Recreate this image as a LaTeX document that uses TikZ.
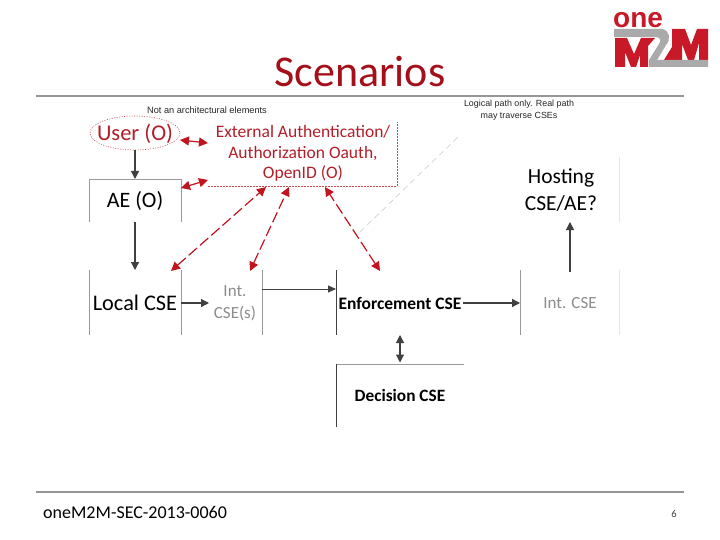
\documentclass[tikz,border=0pt]{standalone}
\usepackage{fontspec}
\setmainfont{Carlito}
\newfontfamily\arialf{Liberation Sans}
\usetikzlibrary{arrows.meta}
\definecolor{ruleg}{RGB}{150,150,150}
\definecolor{dark}{RGB}{64,64,64}
\definecolor{redc}{RGB}{192,20,30}
\definecolor{txtred}{RGB}{180,30,40}
\definecolor{titred}{RGB}{165,15,25}
\definecolor{logored}{RGB}{200,25,40}
\definecolor{logog}{RGB}{170,170,170}
\tikzset{
 x=1pt,y=-1pt,
 lbl/.style 2 args={inner sep=0pt,align=center,font=\fontsize{#1}{#2}\selectfont},
 boldlbl/.style={inner sep=0pt,align=center,font=\bfseries\fontsize{#1}{20}\selectfont},
 smalllbl/.style={inner sep=0pt,align=center,text=black!85,font=\arialf\fontsize{#1}{12}\selectfont},
 flow/.style={draw=dark,line width=1.2pt,-{Triangle[length=8pt,width=8pt]}},
 thinflow/.style={draw=dark,line width=.8pt,-{Triangle[length=8pt,width=7pt]}},
 flowboth/.style={draw=dark,line width=1.1pt,{Triangle[length=8pt,width=8pt]}-{Triangle[length=8pt,width=8pt]}},
 redflow/.style={draw=redc,line width=1.2pt,dash pattern=on 11pt off 4pt,{Triangle[length=9pt,width=9pt]}-{Triangle[length=9pt,width=9pt]}},
 edgeg/.style={draw=black!40,line width=.7pt},
 edged/.style={draw=dark,line width=.8pt},
 edgef/.style={draw=black!10,line width=.7pt},
 redbox/.style={draw=txtred!80,line width=.6pt,dash pattern=on 1.5pt off 1.5pt},
}
\begin{document}
\begin{tikzpicture}
\useasboundingbox (0,0) rectangle (720,540);
\fill[white] (0,0) rectangle (720,540);
% rules
\coordinate (rt1) at (36,96); \coordinate (rt2) at (684,96);
\coordinate (rb1) at (36,492); \coordinate (rb2) at (684,492);
\draw[ruleg,line width=1.5pt] (rt1)--(rt2);
\draw[ruleg,line width=1.5pt] (rb1)--(rb2);
\node[lbl={44}{50},text=titred] (title) at (360,72) {Scenarios};
\node[lbl={18}{20},anchor=west] (foot) at (43,512) {oneM2M-SEC-2013-0060};
\node[lbl={10.5}{12},text=dark] (pg) at (674,514) {6};
% logo
\node[inner sep=0pt,anchor=base west,text=logored,font=\arialf\bfseries\fontsize{28}{28}\selectfont] (one) at (613,28) {one};
\fill[logored] (615,38) -- (627,38) -- (634,54) -- (641,38) -- (655,38) -- (648,46) -- (648,67) -- (640,67) -- (640,55) -- (636,67) -- (631,67) -- (625,52) -- (625,67) -- (615,67) -- cycle;
\fill[logored] (672,29) -- (685,29) -- (691,45) -- (697,29) -- (708,29) -- (708,60) -- (699,60) -- (699,43) -- (694,60) -- (688,60) -- (682,44) -- (682,60) -- (664,60) -- (672,47) -- cycle;
\fill[logog] (614,29) -- (662,29) .. controls (670,30) and (671,40) .. (666,45) -- (657,60) -- (708,60) -- (708,67) -- (649,67) -- (649,60) -- (659,44) .. controls (662,40) and (660,37) .. (655,37) -- (614,37) -- cycle;
% small notes
\node[smalllbl=9.2] (n1) at (207,110) {Not an architectural elements};
\node[smalllbl=8.9] (n2) at (519,110) {Logical path only. Real path\\may traverse CSEs};
% nodes
\node[lbl={22.5}{26},text=txtred] (user) at (135,133.5) {User (O)};
\draw[redbox,dash pattern=on 1pt off 1.5pt] (135,133) ellipse [x radius=45,y radius=17];
\node[lbl={17.5}{20.5},text=txtred] (ext) at (303,153.5) {External Authentication/\\Authorization Oauth,\\OpenID (O)};
\node[lbl={22}{26}] (ae) at (135,200.5) {AE (O)};
\node[lbl={22.3}{26}] (local) at (135,303) {Local CSE};
\node[lbl={17}{22},text=black!45] (int1) at (235,303) {Int.\\CSE(s)};
\node[boldlbl=17.5] (enf) at (400,303) {Enforcement CSE};
\node[lbl={17}{20},text=black!45] (int2) at (570,303) {Int. CSE};
\node[boldlbl=17.3] (dec) at (400,395) {Decision CSE};
\node[lbl={21.5}{27}] (host) at (561,190) {Hosting\\CSE/AE?};
% edge coordinates
\coordinate (aeTL) at (89,179); \coordinate (aeTR) at (181,179);
\coordinate (aeBL) at (89,222); \coordinate (aeBR) at (181,222);
\coordinate (loTL) at (89,270); \coordinate (loTR) at (181,270);
\coordinate (loBL) at (89,335); \coordinate (loBR) at (181,335);
\coordinate (inTR) at (262,270); \coordinate (inBR) at (262,335);
\coordinate (enTL) at (336,270); \coordinate (enBL) at (336,335);
\coordinate (i2TL) at (520,270); \coordinate (i2BL) at (520,335);
\coordinate (i2TR) at (619,270); \coordinate (i2BR) at (619,335);
\coordinate (hoTR) at (619,157); \coordinate (hoBR) at (619,222);
\coordinate (deTL) at (336,364); \coordinate (deTR) at (464,364);
\coordinate (deBL) at (336,427);
\coordinate (exA) at (208,186); \coordinate (exB) at (397,186); \coordinate (exC) at (397,122);
% box edges
\draw[edgeg] (aeBL)--(aeTL)--(aeTR)--(aeBR);
\draw[edgeg] (loTL)--(loBL);
\draw[edgeg] (loTR)--(loBR);
\draw[edgeg] (inTR)--(inBR);
\draw[edged] (enTL)--(enBL);
\draw[edgeg] (i2TL)--(i2BL);
\draw[edgef] (i2TR)--(i2BR);
\draw[edgef] (hoTR)--(hoBR);
\draw[edgeg] (deTL)--(deTR);
\draw[edged] (deTL)--(deBL);
\draw[redbox] (exA)--(exB)--(exC);
% faint logical path
\coordinate (fa) at (360,232); \coordinate (fb) at (460,135);
\draw[black!22,line width=.5pt,dash pattern=on 6pt off 4pt] (fa)--(fb);
% flows
\coordinate (u1) at (135,150); \coordinate (a0) at (135,179);
\coordinate (a1) at (135,222); \coordinate (l0) at (135,270);
\coordinate (l1) at (181,303); \coordinate (i0) at (209,303);
\coordinate (i1) at (262,289); \coordinate (e0) at (336,289);
\coordinate (e1) at (463,303); \coordinate (j0) at (520,303);
\coordinate (j1) at (570,272); \coordinate (h0) at (570,222);
\coordinate (e2) at (400,335); \coordinate (d0) at (400,362.5);
\draw[flow] (u1)--(a0);
\draw[flow] (a1)--(l0);
\draw[flow] (l1)--(i0);
\draw[thinflow] (i1)--(e0);
\draw[flow] (e1)--(j0);
\draw[flow] (j1)--(h0);
\draw[flowboth] (e2)--(d0);
% red arrows
\coordinate (r1a) at (180,140); \coordinate (r1b) at (208,143);
\coordinate (r2a) at (181,188); \coordinate (r2b) at (208,180);
\coordinate (r3a) at (171,271); \coordinate (r3b) at (266,187);
\coordinate (r4a) at (250,271); \coordinate (r4b) at (289,187);
\coordinate (r5a) at (380,271); \coordinate (r5b) at (325,187);
\draw[redflow] (r1a)--(r1b);
\draw[redflow] (r2a)--(r2b);
\draw[redflow] (r3a)--(r3b);
\draw[redflow] (r4a)--(r4b);
\draw[redflow] (r5a)--(r5b);
\end{tikzpicture}
\end{document}
